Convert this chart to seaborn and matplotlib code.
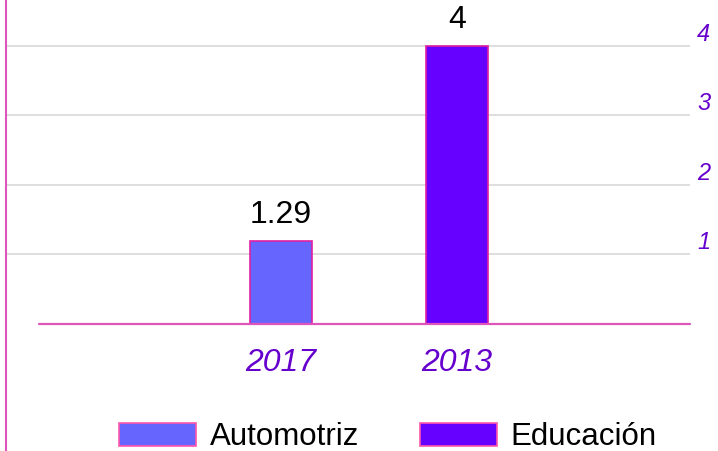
import matplotlib
matplotlib.use("Agg")
import matplotlib.pyplot as plt
from matplotlib.lines import Line2D
import pandas as pd
import seaborn as sns

# datos del gráfico
anios = ["2017", "2013"]
sectores = ["Automotriz", "Educación"]
valores = [1.19, 4]          # altura dibujada de las barras
etiquetas_valor = ["1.29", "4"]
ticks_y = [1, 2, 3, 4]

colores = {"Automotriz": "#6666FF", "Educación": "#6600FF"}
MAGENTA = "#DD55BB"
MORADO = "#6600CC"

df = pd.DataFrame({"anio": anios, "sector": sectores, "valor": valores})

sns.set_theme(style="white")
plt.rcParams["font.family"] = ["Liberation Sans", "DejaVu Sans"]
plt.rcParams["text.color"] = "black"

fig = plt.figure(figsize=(7.18, 4.51), dpi=100)
ax = fig.add_axes([6 / 718, (451 - 324) / 451, (690 - 6) / 718, 324 / 451])

sns.barplot(
    data=df, x="anio", y="valor", hue="sector", order=anios,
    hue_order=sectores, palette=colores, dodge=False, width=0.35,
    saturation=1, edgecolor="#E0209F", linewidth=1.2, legend=False,
    ax=ax, zorder=3,
)

ax.set_xlim(-1.5625, 2.324)
ax.set_ylim(0, 4.66)

# rejilla horizontal
for t in ticks_y:
    ax.axhline(t, color="#D9D9D9", linewidth=1.2, zorder=1)
ax.axhline(0, xmin=33 / 684, xmax=1.0, color=MAGENTA, linewidth=1.6,
           zorder=4, clip_on=False)

for s in ax.spines.values():
    s.set_visible(False)

ax.set_xlabel("")
ax.set_ylabel("")
ax.tick_params(axis="x", length=0, pad=17, labelsize=23, labelcolor=MORADO)
for lab in ax.get_xticklabels():
    lab.set_fontstyle("italic")

ax.yaxis.set_ticks_position("right")
ax.set_yticks(ticks_y)
ax.set_yticklabels([str(t) for t in ticks_y])
ax.tick_params(axis="y", length=0, pad=5, labelsize=17, labelcolor=MORADO)
for lab in ax.get_yticklabels():
    lab.set_fontstyle("italic")
    lab.set_verticalalignment("bottom")

for cont, txt in zip(ax.containers, etiquetas_valor):
    ax.bar_label(cont, labels=[txt], padding=8, fontsize=23, color="black")

# línea vertical izquierda
fig.add_artist(Line2D([6 / 718, 6 / 718], [0, 1], color=MAGENTA, linewidth=1.5))

handles = [plt.Rectangle((0, 0), 1, 1, facecolor=colores[s], edgecolor="#FF55AA", linewidth=1.2)
           for s in sectores]
leg = fig.legend(handles, sectores, loc="center", bbox_to_anchor=(388 / 718, 1 - 437 / 451),
                 ncol=2, frameon=False, fontsize=22.5, handlelength=2.45, handleheight=0.75,
                 handletextpad=0.45, columnspacing=1.95, borderpad=0)
for t in leg.get_texts():
    t.set_color("black")

fig.savefig("out.png", dpi=100)
